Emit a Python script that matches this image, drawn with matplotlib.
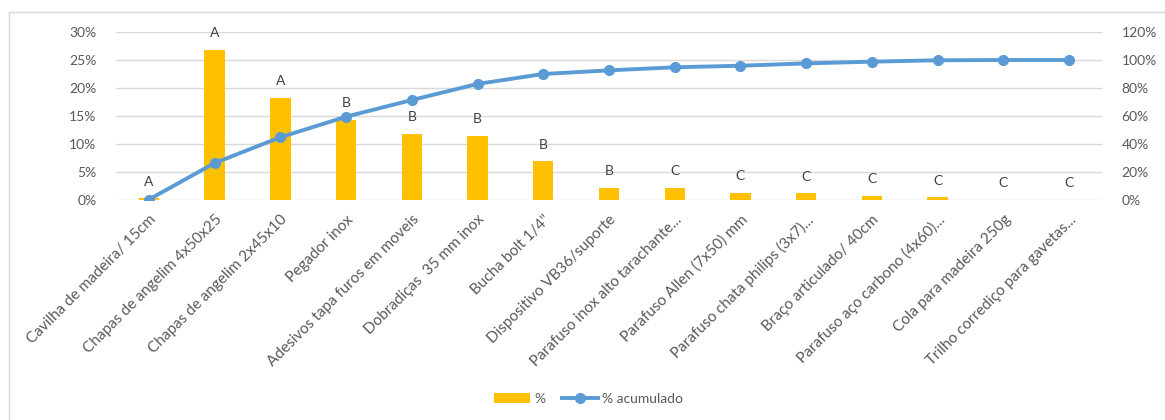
import matplotlib.pyplot as plt
from matplotlib.patches import Rectangle
from matplotlib.ticker import PercentFormatter

# Pareto / curva ABC dos itens
itens = [
    "Cavilha de madeira/ 15cm",
    "Chapas de angelim 4x50x25",
    "Chapas de angelim 2x45x10",
    "Pegador inox",
    "Adesivos tapa furos em moveis",
    "Dobradiças  35 mm inox",
    "Bucha bolt 1/4\"",
    "Dispositivo VB36/suporte",
    "Parafuso inox alto tarachante...",
    "Parafuso Allen (7x50) mm",
    "Parafuso chata philips (3x7)...",
    "Braço articulado/ 40cm",
    "Parafuso aço carbono (4x60)...",
    "Cola para madeira 250g",
    "Trilho corrediço para gavetas...",
]
pct = [0.3, 26.8, 18.2, 14.3, 11.8, 11.5, 6.9, 2.2, 2.2, 1.25, 1.2, 0.7, 0.5, 0.05, 0.0]
pct_acum = [0.3, 26.4, 44.8, 59.5, 71.4, 82.9, 90.0, 92.6, 94.8, 95.9, 97.6, 98.8, 99.8, 100.0, 100.0]
classe = ["A", "A", "A", "B", "B", "B", "B", "B", "C", "C", "C", "C", "C", "C", "C"]

plt.rcParams['font.family'] = ['Lato', 'DejaVu Sans']
txt = '#595959'

fig = plt.figure(figsize=(11.65, 4.2), dpi=100)
fig.patches.append(Rectangle((9 / 1165, -0.1), 1.1, 1 - 12 / 420 + 0.1,
                             transform=fig.transFigure, fill=False,
                             edgecolor='#d9d9d9', linewidth=1))

ax = fig.add_axes([116 / 1165, 1 - 200 / 420, 986 / 1165, 168 / 420])
x = list(range(len(itens)))
bars = ax.bar(x, pct, width=0.31, color='#FFC000', zorder=2, label='%')
ax.set_xlim(-0.5, len(itens) - 0.5)
ax.set_ylim(0, 30)
ax.set_yticks(range(0, 31, 5))
ax.yaxis.set_major_formatter(PercentFormatter(decimals=0))
ax.grid(axis='y', color='#d9d9d9', linewidth=1, zorder=0)
ax.set_axisbelow(True)
for s in ax.spines.values():
    s.set_visible(False)
ax.tick_params(axis='both', length=0, colors=txt, labelsize=10)
ax.tick_params(axis='y', pad=14)
ax.set_xticks(x)
ax.set_xticklabels(itens, rotation=45, ha='right', va='top', rotation_mode='anchor',
                   fontsize=11, color=txt)
ax.tick_params(axis='x', pad=9)

for xi, v, c in zip(x, pct, classe):
    ax.annotate(c, (xi, v), xytext=(0, 12), textcoords='offset points',
                ha='center', va='center', fontsize=10, color='#404040')

ax2 = ax.twinx()
ax2.plot(x, pct_acum, color='#5B9BD5', linewidth=2.8, marker='o',
         markersize=7, zorder=3, label='% acumulado')
ax2.set_ylim(0, 120)
ax2.set_yticks(range(0, 121, 20))
ax2.yaxis.set_major_formatter(PercentFormatter(decimals=0))
for s in ax2.spines.values():
    s.set_visible(False)
ax2.tick_params(axis='y', length=0, colors=txt, labelsize=10, pad=14)

h1, l1 = ax.get_legend_handles_labels()
h2, l2 = ax2.get_legend_handles_labels()
fig.legend(h1 + h2, l1 + l2, loc='center', bbox_to_anchor=(0.505, 1 - 399 / 420),
           ncol=2, frameon=False, fontsize=10, labelcolor=txt,
           handlelength=2.6, handletextpad=0.3, columnspacing=1.2)

fig.savefig('out.png', dpi=100)
